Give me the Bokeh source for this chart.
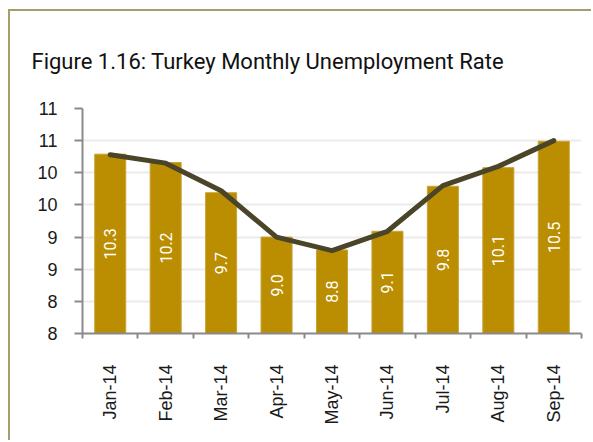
from bokeh.plotting import figure
from bokeh.models import ColumnDataSource, FixedTicker, LabelSet
from bokeh.core.properties import value
from bokeh.embed import file_html
from bokeh.resources import INLINE
import math

months = ["Jan-14", "Feb-14", "Mar-14", "Apr-14", "May-14", "Jun-14", "Jul-14", "Aug-14", "Sep-14"]
bar_values = [10.29, 10.16, 9.69, 9.0, 8.80, 9.09, 9.79, 10.08, 10.49]
line_values = [10.28, 10.15, 9.72, 9.0, 8.79, 9.09, 9.80, 10.10, 10.50]
y_ticks = [7.5, 8.0, 8.5, 9.0, 9.5, 10.0, 10.5, 11.0]
title_text = "Figure 1.16: Turkey Monthly Unemployment Rate"

y_min, y_max = 7.5, 11.0
x_pos = [i + 0.5 for i in range(len(months))]

src = ColumnDataSource(dict(
    x=x_pos,
    bar=bar_values,
    line=line_values,
    mid=[(y_min + v) / 2 for v in bar_values],
    lab=["%.1f" % v for v in bar_values],
))

W, H = 583, 431
p = figure(width=W, height=H, output_backend="svg", toolbar_location=None,
           x_range=(0, len(months)), y_range=(y_min, y_max),
           min_border_left=72, min_border_right=12, min_border_top=97, min_border_bottom=109,
           title=title_text)
p.styles = {"margin-left": "8px", "margin-top": "9px",
            "border-left": "2px solid #a59e6c", "border-top": "2px solid #a59e6c"}
p.outline_line_color = None
p.background_fill_color = "white"
p.border_fill_color = "white"

p.title.align = "left"
p.title.offset = -51
p.title.standoff = 69
p.title.text_font = "Roboto"
p.title.text_font_style = "normal"
p.title.text_font_size = "22px"
p.title.text_color = "#111111"

p.vbar(x="x", top="bar", bottom=y_min, width=0.56, source=src,
       fill_color="#BB8D00", line_color="#C9A33A", line_width=1)
p.line(x="x", y="line", source=src, line_color="#4A4428", line_width=5,
       line_cap="round", line_join="round")

labels = LabelSet(x="x", y="mid", text="lab", source=src, angle=math.pi / 2,
                  text_align="center", text_baseline="middle", text_color="white",
                  text_font=value("Roboto"), text_font_size="16px")
p.add_layout(labels)

# axes
p.xgrid.grid_line_color = None
p.ygrid.grid_line_color = "#ebebeb"
p.ygrid.grid_line_width = 2
p.ygrid.ticker = FixedTicker(ticks=y_ticks)

p.yaxis.ticker = FixedTicker(ticks=y_ticks)
p.yaxis.major_label_overrides = {t: str(int(math.floor(t + 0.5))) for t in y_ticks}
p.yaxis.axis_line_color = "#8a8a8a"
p.yaxis.axis_line_width = 2
p.yaxis.major_tick_line_color = "#8a8a8a"
p.yaxis.major_tick_line_width = 2
p.yaxis.major_tick_out = 8
p.yaxis.major_tick_in = 0
p.yaxis.minor_tick_line_color = None
p.yaxis.major_label_standoff = 17
p.yaxis.major_label_text_font = "Liberation Sans"
p.yaxis.major_label_text_font_size = "18px"
p.yaxis.major_label_text_color = "#1a1a1a"

p.xaxis.ticker = FixedTicker(ticks=x_pos, minor_ticks=list(range(len(months) + 1)))
p.xaxis.major_label_overrides = {x: m for x, m in zip(x_pos, months)}
p.xaxis.major_label_orientation = math.pi / 2
p.xaxis.axis_line_color = "#8a8a8a"
p.xaxis.axis_line_width = 2
p.xaxis.major_tick_line_color = None
p.xaxis.major_tick_out = 0
p.xaxis.major_tick_in = 0
p.xaxis.minor_tick_line_color = "#8a8a8a"
p.xaxis.minor_tick_line_width = 2
p.xaxis.minor_tick_out = 5
p.xaxis.minor_tick_in = 0
p.xaxis.major_label_standoff = 26
p.xaxis.major_label_text_font = "Liberation Sans"
p.xaxis.major_label_text_font_size = "18px"
p.xaxis.major_label_text_color = "#1a1a1a"

open("out.html", "w").write(file_html(p, INLINE))
